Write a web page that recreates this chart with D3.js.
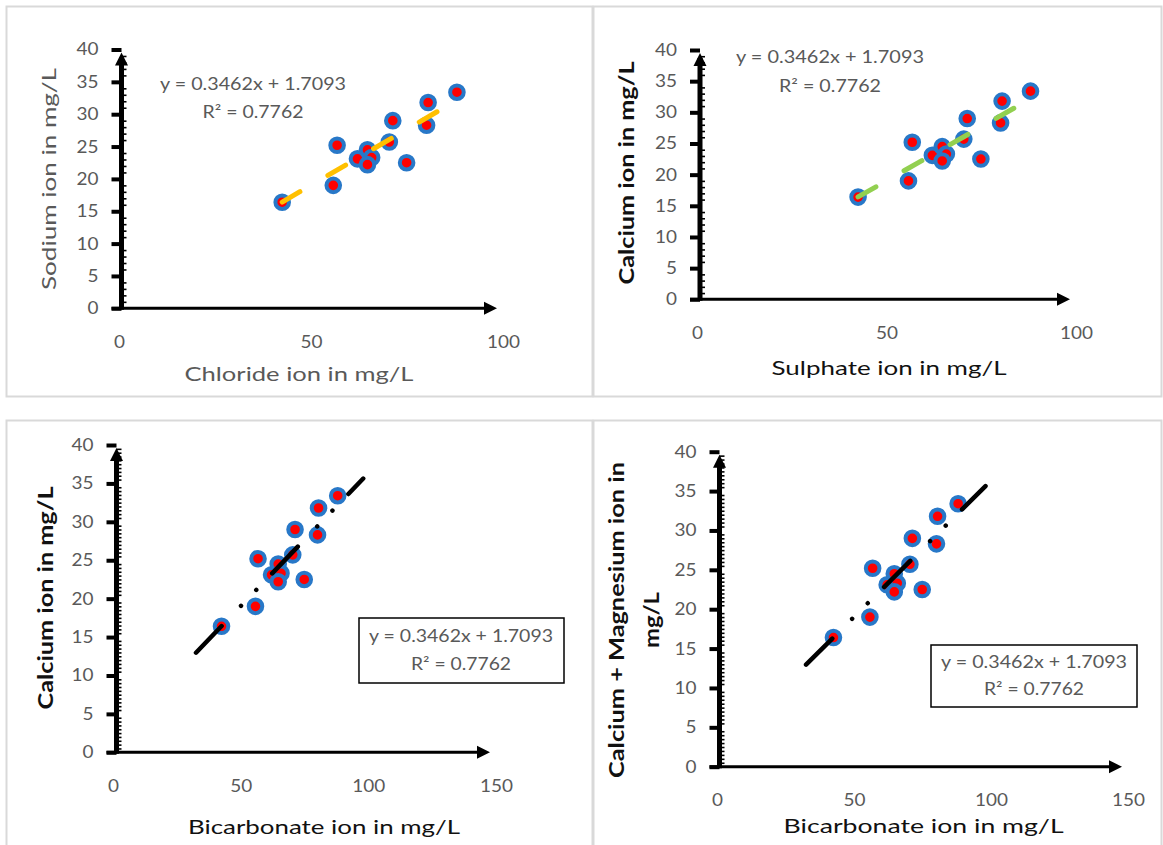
<!DOCTYPE html>
<html><head><meta charset="utf-8">
<script src="https://cdn.jsdelivr.net/npm/d3@7"></script>
<style>
html,body{margin:0;padding:0;background:#fff;}
svg{display:block;font-family:Lato,"Open Sans",sans-serif;}
</style></head>
<body>
<svg id="chart" width="1163" height="845"></svg>
<script>
// ---------- data ----------
const ionX = [42.5, 55.8, 56.8, 62.1, 64.7, 65.8, 64.7, 70.4, 71.3, 74.9, 80.1, 80.5, 88.0];
const ionY = [16.4, 19.0, 25.2, 23.1, 24.5, 23.3, 22.2, 25.7, 29.0, 22.5, 28.3, 31.8, 33.4];
const yTickValues = [0, 5, 10, 15, 20, 25, 30, 35, 40];
const xTicksShort = [0, 50, 100];
const xTicksLong = [0, 50, 100, 150];
const trendSlope = 0.3462;
const trendIntercept = 1.7093;
const eqText = ["y = 0.3462x + 1.7093", "R\u00B2 = 0.7762"];
const xTitles = ["Chloride ion in mg/L", "Sulphate ion in mg/L", "Bicarbonate ion in mg/L", "Bicarbonate ion in mg/L"];
const yTitles = [["Sodium ion in mg/L"], ["Calcium ion in mg/L"], ["Calcium ion in mg/L"], ["Calcium + Magnesium ion in", "mg/L"]];

// ---------- layout ----------
const panels = [
  {frame:[6.5,6.5,586,390], xd:100, xr:[119,503], yr:[308.3,49.5], ax:121.5, xt:xTicksShort, minor:1,
   trend:{color:"#FFC000", w:5, dash:"20.5,32.4", ext:0},
   eq:{x:253, y:[83.3,111.7], len:[186,101]}, box:null,
   xTitle:{x:299, y:373, len:229, color:"#595959", weight:400},
   yTitle:{x:[48], y:179, len:[222], color:"#595959", weight:400}},
  {frame:[593.5,6.5,568,390], xd:100, xr:[697,1076], yr:[299.3,50], ax:700, xt:xTicksShort, minor:1,
   trend:{color:"#92D050", w:5, dash:"20.5,32.4", ext:0},
   eq:{x:830, y:[56.7,85], len:[188,102]}, box:null,
   xTitle:{x:889, y:366.7, len:235, color:"#111", weight:400},
   yTitle:{x:[625.5], y:173, len:[223], color:"#111", weight:700}},
  {frame:[6.5,420.5,586,440], xd:150, xr:[113,496], yr:[752.3,445], ax:116.5, xt:xTicksLong, minor:0.5,
   trend:{color:"#000", w:4.5, dash:"37,28,0.01,22,0.01,23", ext:10},
   eq:{x:461, y:[635,663.3], len:[184,100]}, box:[359,618,205,65],
   xTitle:{x:324, y:826, len:272, color:"#111", weight:400},
   yTitle:{x:[45], y:598, len:[223], color:"#111", weight:700}},
  {frame:[593.5,420.5,568,440], xd:150, xr:[717,1128], yr:[766.7,451.7], ax:719.5, xt:xTicksLong, minor:0.5,
   trend:{color:"#000", w:4.5, dash:"37,28,0.01,22,0.01,23", ext:10},
   eq:{x:1034, y:[661.7,688.3], len:[186,100]}, box:[931,645,206,62],
   xTitle:{x:923.6, y:825, len:280, color:"#111", weight:400},
   yTitle:{x:[616,651], y:620, len:[316,56], color:"#111", weight:700}}
];

const svg = d3.select("#chart");
svg.append("rect").attr("width",1163).attr("height",845).attr("fill","#fff");

panels.forEach((p,i) => {
  const g = svg.append("g");
  g.append("rect").attr("x",p.frame[0]).attr("y",p.frame[1]).attr("width",p.frame[2]).attr("height",p.frame[3])
    .attr("fill","none").attr("stroke","#d9d9d9").attr("stroke-width",2);

  const x = d3.scaleLinear().domain([0, p.xd]).range(p.xr);
  const y = d3.scaleLinear().domain([0, 40]).range(p.yr);

  // major ticks (left) with labels
  const yAxis = d3.axisLeft(y).tickValues(yTickValues).tickSize(10).tickPadding(13);
  const ya = g.append("g").attr("transform",`translate(${p.ax},0)`).call(yAxis);
  ya.select(".domain").remove();
  ya.selectAll(".tick line").attr("stroke","#000").attr("stroke-width",4);
  ya.selectAll(".tick text").attr("fill","#595959").attr("font-size",17).attr("font-family","Lato")
    .attr("textLength",d => String(d).length*11).attr("lengthAdjust","spacingAndGlyphs");

  // minor ticks (right side)
  const minorVals = d3.range(0, 40 + 1e-9, p.minor).filter(v => v % 5 !== 0);
  const ym = g.append("g").attr("transform",`translate(${p.ax},0)`)
    .call(d3.axisRight(y).tickValues(minorVals).tickSize(5).tickFormat(""));
  ym.select(".domain").remove();
  ym.selectAll(".tick line").attr("stroke","#000").attr("stroke-width",1.6);

  // x axis labels
  const xAxis = d3.axisBottom(x).tickValues(p.xt).tickSize(0).tickPadding(0);
  const xa = g.append("g").attr("transform",`translate(0,${y(0)})`).call(xAxis);
  xa.select(".domain").remove();
  xa.selectAll(".tick text").attr("fill","#595959").attr("font-size",17).attr("font-family","Lato")
    .attr("dy",null).attr("y",33).attr("dominant-baseline","central")
    .attr("textLength",d => String(d).length*11).attr("lengthAdjust","spacingAndGlyphs");

  // axis lines with arrows
  const tipX = x(p.xd) - 6;
  g.append("line").attr("x1",p.ax-10).attr("x2",tipX-10).attr("y1",y(0)).attr("y2",y(0))
    .attr("stroke","#000").attr("stroke-width",3);
  g.append("path").attr("d",`M${tipX},${y(0)} L${tipX-13},${y(0)-6.5} L${tipX-13},${y(0)+6.5} Z`).attr("fill","#000");
  g.append("line").attr("x1",p.ax).attr("x2",p.ax).attr("y1",y(0)+1.5).attr("y2",y(40)+8)
    .attr("stroke","#000").attr("stroke-width",5);
  const tipY = y(40) + 3;
  g.append("path").attr("d",`M${p.ax},${tipY} L${p.ax-6.5},${tipY+13} L${p.ax+6.5},${tipY+13} Z`).attr("fill","#000");

  // points
  const pts = ionX.map((v,k) => [v, ionY[k]]);
  g.append("g").selectAll("circle").data(pts).join("circle")
    .attr("cx",d => x(d[0])).attr("cy",d => y(d[1])).attr("r",6.8)
    .attr("fill","#FF0000").attr("stroke","#2878C8").attr("stroke-width",4);

  // trendline
  const x0 = d3.min(ionX) - p.trend.ext, x1 = d3.max(ionX) + p.trend.ext;
  g.append("line").attr("x1",x(x0)).attr("y1",y(trendSlope*x0+trendIntercept))
    .attr("x2",x(x1)).attr("y2",y(trendSlope*x1+trendIntercept))
    .attr("stroke",p.trend.color).attr("stroke-width",p.trend.w).attr("stroke-linecap","round")
    .attr("stroke-dasharray",p.trend.dash);

  // equation
  if (p.box) g.append("rect").attr("x",p.box[0]).attr("y",p.box[1]).attr("width",p.box[2]).attr("height",p.box[3])
    .attr("fill","#fff").attr("stroke","#000").attr("stroke-width",1.5);
  eqText.forEach((t,k) => {
    g.append("text").attr("x",p.eq.x).attr("y",p.eq.y[k]).attr("text-anchor","middle").attr("dominant-baseline","central")
      .attr("font-size",17).attr("fill","#595959").attr("textLength",p.eq.len[k]).attr("lengthAdjust","spacingAndGlyphs")
      .text(t);
  });

  // titles
  g.append("text").attr("x",p.xTitle.x).attr("y",p.xTitle.y).attr("text-anchor","middle").attr("dominant-baseline","central")
    .attr("font-size",20).attr("font-weight",p.xTitle.weight).attr("fill",p.xTitle.color)
    .attr("textLength",p.xTitle.len).attr("lengthAdjust","spacingAndGlyphs").text(xTitles[i]);
  yTitles[i].forEach((t,k) => {
    g.append("text").attr("transform",`translate(${p.yTitle.x[k]},${p.yTitle.y}) rotate(-90)`)
      .attr("text-anchor","middle").attr("dominant-baseline","central")
      .attr("font-size",20).attr("font-weight",p.yTitle.weight).attr("fill",p.yTitle.color)
      .attr("textLength",p.yTitle.len[k]).attr("lengthAdjust","spacingAndGlyphs").text(t);
  });
});
</script>
</body></html>
